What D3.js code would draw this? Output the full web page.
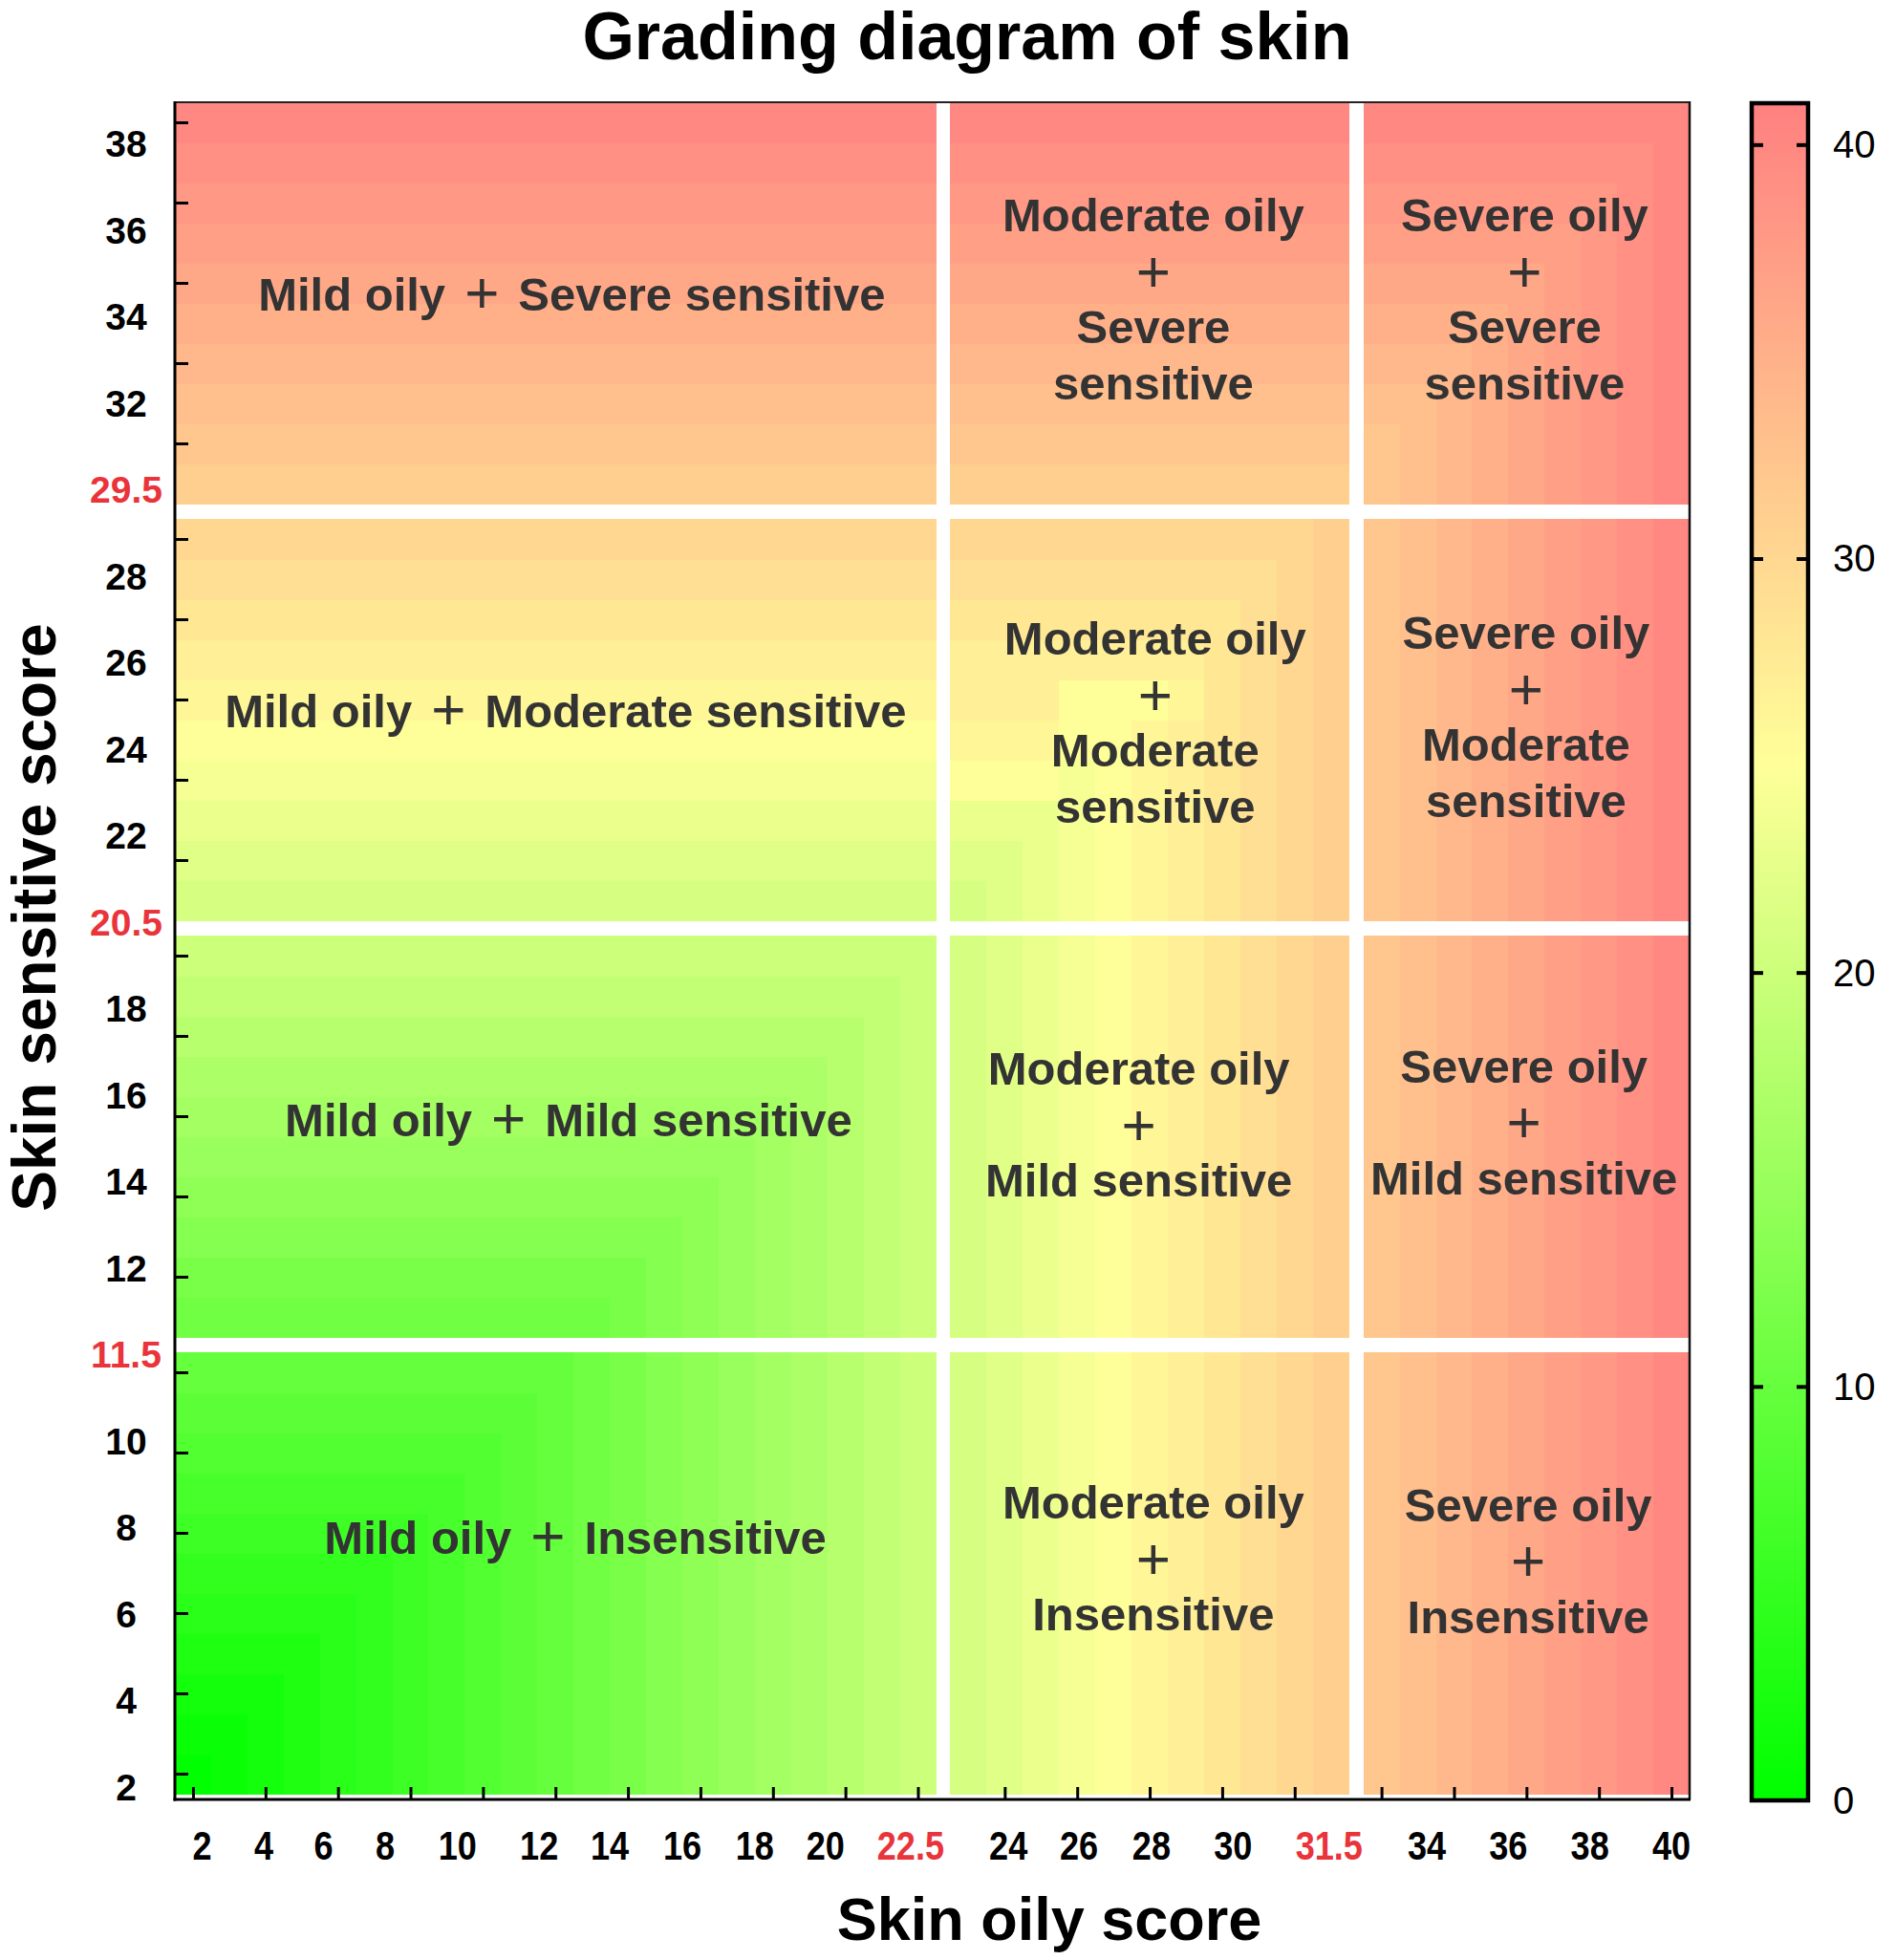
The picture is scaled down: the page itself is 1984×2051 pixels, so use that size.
<!DOCTYPE html>
<html><head><meta charset="utf-8">
<script src="https://cdn.jsdelivr.net/npm/d3@7"></script>
<style>
html,body{margin:0;padding:0;background:#fff;}
svg{display:block;}
text{font-family:"Liberation Sans", Arial, Helvetica, sans-serif;}
</style></head><body>
<svg id="chart" width="1984" height="2051"></svg>
<script>
// ---------------- DATA ----------------
const chartTitle = "Grading diagram of skin";
const xTitle = "Skin oily score";
const yTitle = "Skin sensitive score";

// grid cells: 41 oily columns (index 0..40) x 41 sensitive rows (index 0..40, bottom to top)
const columnIndex = [0,1,2,3,4,5,6,7,8,9,10,11,12,13,14,15,16,17,18,19,20,21,22,23,24,25,26,27,28,29,30,31,32,33,34,35,36,37,38,39,40];
const rowIndex    = [0,1,2,3,4,5,6,7,8,9,10,11,12,13,14,15,16,17,18,19,20,21,22,23,24,25,26,27,28,29,30,31,32,33,34,35,36,37,38,39,40];
// grade boundaries (white separators) come after these cell indices
const oilyBreaks = [20, 31];
const sensitiveBreaks = [10, 20, 30];

// heat values per row (row 0 = bottom)
const gradeRows = [
/* 0*/[0,1,2,3,4,5,6,7,8,9,10,11,12,13,14,15,16,17,18,19,20,21,22,23,24,25,26,27,28,29,30,31,32,33,34,35,36,37,38,39,40],
/* 1*/[1,1,2,3,4,5,6,7,8,9,10,11,12,13,14,15,16,17,18,19,20,21,22,23,24,25,26,27,28,29,30,31,32,33,34,35,36,37,38,39,40],
/* 2*/[2,2,2,3,4,5,6,7,8,9,10,11,12,13,14,15,16,17,18,19,20,21,22,23,24,25,26,27,28,29,30,31,32,33,34,35,36,37,38,39,40],
/* 3*/[3,3,3,3,4,5,6,7,8,9,10,11,12,13,14,15,16,17,18,19,20,21,22,23,24,25,26,27,28,29,30,31,32,33,34,35,36,37,38,39,40],
/* 4*/[4,4,4,4,4,5,6,7,8,9,10,11,12,13,14,15,16,17,18,19,20,21,22,23,24,25,26,27,28,29,30,31,32,33,34,35,36,37,38,39,40],
/* 5*/[5,5,5,5,5,5,6,7,8,9,10,11,12,13,14,15,16,17,18,19,20,21,22,23,24,25,26,27,28,29,30,31,32,33,34,35,36,37,38,39,40],
/* 6*/[6,6,6,6,6,6,6,7,8,9,10,11,12,13,14,15,16,17,18,19,20,21,22,23,24,25,26,27,28,29,30,31,32,33,34,35,36,37,38,39,40],
/* 7*/[7,7,7,7,7,7,7,7,8,9,10,11,12,13,14,15,16,17,18,19,20,21,22,23,24,25,26,27,28,29,30,31,32,33,34,35,36,37,38,39,40],
/* 8*/[8,8,8,8,8,8,8,8,8,9,10,11,12,13,14,15,16,17,18,19,20,21,22,23,24,25,26,27,28,29,30,31,32,33,34,35,36,37,38,39,40],
/* 9*/[9,9,9,9,9,9,9,9,9,9,10,11,12,13,14,15,16,17,18,19,20,21,22,23,24,25,26,27,28,29,30,31,32,33,34,35,36,37,38,39,40],
/*10*/[10,10,10,10,10, 10,10,10,10,10, 10,11,12,13,14,15,16,17,18,19,20,21,22,23,24,25,26,27,28,29,30,31,32,33,34,35,36,37,38,39,40],
/*11*/[11,11,11,11,11, 11,11,11,11,11, 11,11,12,13,14,15,16,17,18,19,20,21,22,23,24,25,26,27,28,29,30,31,32,33,34,35,36,37,38,39,40],
/*12*/[12,12,12,12,12, 12,12,12,12,12, 12,12,12,13,14,15,16,17,18,19,20,21,22,23,24,25,26,27,28,29,30,31,32,33,34,35,36,37,38,39,40],
/*13*/[13,13,13,13,13, 13,13,13,13,13, 13,13,13,13,14,15,16,17,18,19,20,21,22,23,24,25,26,27,28,29,30,31,32,33,34,35,36,37,38,39,40],
/*14*/[14,14,14,14,14, 14,14,14,14,14, 14,14,14,14,14, 15,16,17,18,19,20,21,22,23,24,25,26,27,28,29,30,31,32,33,34,35,36,37,38,39,40],
/*15*/[15,15,15,15,15, 15,15,15,15,15, 15,15,15,15,15, 15,16,17,18,19,20,21,22,23,24,25,26,27,28,29,30,31,32,33,34,35,36,37,38,39,40],
/*16*/[16,16,16,16,16, 16,16,16,16,16, 16,16,16,16,16, 16,16,17,18,19,20,21,22,23,24,25,26,27,28,29,30,31,32,33,34,35,36,37,38,39,40],
/*17*/[17,17,17,17,17, 17,17,17,17,17, 17,17,17,17,17, 17,17,17,18,19,20,21,22,23,24,25,26,27,28,29,30,31,32,33,34,35,36,37,38,39,40],
/*18*/[18,18,18,18,18, 18,18,18,18,18, 18,18,18,18,18, 18,18,18,18,19,20,21,22,23,24,25,26,27,28,29,30,31,32,33,34,35,36,37,38,39,40],
/*19*/[19,19,19,19,19, 19,19,19,19,19, 19,19,19,19,19, 19,19,19,19,19, 20,21,22,23,24,25,26,27,28,29,30,31,32,33,34,35,36,37,38,39,40],
/*20*/[20,20,20,20,20, 20,20,20,20,20, 20,20,20,20,20, 20,20,20,20,20, 20,21,22,23,24,25,26,27,28,29,30,31,32,33,34,35,36,37,38,39,40],
/*21*/[21,21,21,21,21, 21,21,21,21,21, 21,21,21,21,21, 21,21,21,21,21, 21,21,22,23,24,25,26,27,28,29,30,31,32,33,34,35,36,37,38,39,40],
/*22*/[22,22,22,22,22, 22,22,22,22,22, 22,22,22,22,22, 22,22,22,22,22, 22,22,22,23,24,25,26,27,28,29,30,31,32,33,34,35,36,37,38,39,40],
/*23*/[23,23,23,23,23, 23,23,23,23,23, 23,23,23,23,23, 23,23,23,23,23, 23,23,23,23,24,25,26,27,28,29,30,31,32,33,34,35,36,37,38,39,40],
/*24*/[24,24,24,24,24, 24,24,24,24,24, 24,24,24,24,24, 24,24,24,24,24, 24,25,25,25,24, 25,26,27,28,29,30,31,32,33,34,35,36,37,38,39,40],
/*25*/[25,25,25,25,25, 25,25,25,25,25, 25,25,25,25,25, 25,25,25,25,25, 25,26,26,26,25, 25,26,27,28,29,30,31,32,33,34,35,36,37,38,39,40],
/*26*/[26,26,26,26,26, 26,26,26,26,26, 26,26,26,26,26, 26,26,26,26,26, 26,27,27,27,25, 25,25,26,28,29,30,31,32,33,34,35,36,37,38,39,40],
/*27*/[27,27,27,27,27, 27,27,27,27,27, 27,27,27,27,27, 27,27,27,27,27, 27,27,27,27,27, 27,27,27,28,29,30,31,32,33,34,35,36,37,38,39,40],
/*28*/[28,28,28,28,28, 28,28,28,28,28, 28,28,28,28,28, 28,28,28,28,28, 28,28,28,28,28, 28,28,28,28,29,30,31,32,33,34,35,36,37,38,39,40],
/*29*/[29,29,29,29,29, 29,29,29,29,29, 29,29,29,29,29, 29,29,29,29,29, 29,29,29,29,29, 29,29,29,29,29, 30,31,32,33,34,35,36,37,38,39,40],
/*30*/[30,30,30,30,30, 30,30,30,30,30, 30,30,30,30,30, 30,30,30,30,30, 30,30,30,30,30, 30,30,30,30,30, 30,31,32,33,34,35,36,37,38,39,40],
/*31*/[31,31,31,31,31, 31,31,31,31,31, 31,31,31,31,31, 31,31,31,31,31, 31,31,31,31,31, 31,31,31,31,31, 31,31,32,33,34,35,36,37,38,39,40],
/*32*/[32,32,32,32,32, 32,32,32,32,32, 32,32,32,32,32, 32,32,32,32,32, 32,32,32,32,32, 32,32,32,32,32, 32,32,32,33,34,35,36,37,38,39,40],
/*33*/[33,33,33,33,33, 33,33,33,33,33, 33,33,33,33,33, 33,33,33,33,33, 33,33,33,33,33, 33,33,33,33,33, 33,33,33,33,34,35,36,37,38,39,40],
/*34*/[34,34,34,34,34, 34,34,34,34,34, 34,34,34,34,34, 34,34,34,34,34, 34,34,34,34,34, 34,34,34,34,34, 34,34,34,34,34, 35,36,37,38,39,40],
/*35*/[35,35,35,35,35, 35,35,35,35,35, 35,35,35,35,35, 35,35,35,35,35, 35,35,35,35,35, 35,35,35,35,35, 35,35,35,35,35, 35,36,37,38,39,40],
/*36*/[36,36,36,36,36, 36,36,36,36,36, 36,36,36,36,36, 36,36,36,36,36, 36,36,36,36,36, 36,36,36,36,36, 36,36,36,36,36, 36,36,37,38,39,40],
/*37*/[37,37,37,37,37, 37,37,37,37,37, 37,37,37,37,37, 37,37,37,37,37, 37,37,37,37,37, 37,37,37,37,37, 37,37,37,37,37, 37,37,37,38,39,40],
/*38*/[38,38,38,38,38, 38,38,38,38,38, 38,38,38,38,38, 38,38,38,38,38, 38,38,38,38,38, 38,38,38,38,38, 38,38,38,38,38, 38,38,38,38,39,40],
/*39*/[39,39,39,39,39, 39,39,39,39,39, 39,39,39,39,39, 39,39,39,39,39, 39,39,39,39,39, 39,39,39,39,39, 39,39,39,39,39, 39,39,39,39,39, 40],
/*40*/[40,40,40,40,40, 40,40,40,40,40, 40,40,40,40,40, 40,40,40,40,40, 40,40,40,40,40, 40,40,40,40,40, 40,40,40,40,40, 40,40,40,40,40, 40]
];

// axis ticks (cell indices) and tick labels
const xTickCells = [0,2,4,6,8,10,12,14,16,18,20,22,24,26,28,30,32,34,36,38,40];
const yTickCells = [0,2,4,6,8,10,12,14,16,18,20,22,24,26,28,30,32,34,36,38,40];
const xTickLabels = ["2","4","6","8","10","12","14","16","18","20","22.5","24","26","28","30","31.5","34","36","38","40"];
const xTickLabelAt = [0.25,1.95,3.6,5.3,7.3,9.55,11.5,13.5,15.5,17.45,19.8,22.1,24.05,26.05,28.3,30.95,33.25,35.5,37.75,40];
const yTickLabels = ["38","36","34","32","29.5","28","26","24","22","20.5","18","16","14","12","11.5","10","8","6","4","2"];
const cutoffLabels = ["22.5","31.5","29.5","20.5","11.5"];

// colour scale
const colorStops = [0, 25, 41];
const colorStopColors = ["#00ff00", "#ffff99", "#ff8080"];
const colorbarTicks = [10, 20, 30, 40];
const colorbarLabels = [0, 10, 20, 30, 40];

// grade annotations: [oily cell, sensitive cell] anchor
const inlineGrades = [
  {left:"Mild oily", right:"Severe sensitive",   at:[10.45, 35.69]},
  {left:"Mild oily", right:"Moderate sensitive", at:[10.28, 25.69]},
  {left:"Mild oily", right:"Mild sensitive",     at:[10.36, 15.88]},
  {left:"Mild oily", right:"Insensitive",        at:[10.55, 5.86]}
];
const stackedGrades = [
  {lines:["Moderate oily","+","Severe","sensitive"],   at:[26.1, 35.6]},
  {lines:["Moderate oily","+","Moderate","sensitive"], at:[26.15, 25.43]},
  {lines:["Moderate oily","+","Mild sensitive"],       at:[25.7, 15.79]},
  {lines:["Moderate oily","+","Insensitive"],          at:[26.1, 5.36]},
  {lines:["Severe oily","+","Severe","sensitive"],     at:[35.95, 35.6]},
  {lines:["Severe oily","+","Moderate","sensitive"],   at:[35.99, 25.57]},
  {lines:["Severe oily","+","Mild sensitive"],         at:[35.93, 15.85]},
  {lines:["Severe oily","+","Insensitive"],            at:[36.05, 5.3]}
];

// ---------------- LAYOUT ----------------
const svg = d3.select("#chart");
const plotL = 183, plotR = 1768, plotT = 107, axisY = 1883, heatB = 1877;
const colGap = 15, rowGap = 16;
const colW = (plotR - plotL - colGap * oilyBreaks.length) / columnIndex.length;
const rowH = (heatB - plotT - rowGap * sensitiveBreaks.length) / rowIndex.length;

function gapped(base, breaks, gap, sign) {
  const s = v => base(v) + sign * gap * breaks.filter(b => v > b + 0.5).length;
  s.domain = () => base.domain();
  s.range = () => base.range();
  s.copy = () => gapped(base.copy(), breaks, gap, sign);
  return s;
}
const xBase = d3.scaleLinear().domain([-0.5, columnIndex.length - 0.5]).range([plotL, plotL + colW * columnIndex.length]);
const yBase = d3.scaleLinear().domain([-0.5, rowIndex.length - 0.5]).range([heatB, heatB - rowH * rowIndex.length]);
const x = gapped(xBase, oilyBreaks, colGap, 1);
const y = gapped(yBase, sensitiveBreaks, rowGap, -1);

const color = d3.scaleLinear().domain(colorStops).range(colorStopColors);

// heatmap cells
const cells = [];
gradeRows.forEach((row, r) => row.forEach((v, c) => cells.push({c: columnIndex[c], r: rowIndex[r], v})));
svg.append("g").attr("shape-rendering", "crispEdges")
  .selectAll("rect").data(cells).join("rect")
  .attr("x", d => x(d.c) - colW / 2)
  .attr("y", d => y(d.r) - rowH / 2)
  .attr("width", colW + 0.6)
  .attr("height", rowH + 0.6)
  .attr("fill", d => color(d.v));

// frame
const frame = svg.append("g");
frame.append("line").attr("x1", plotL).attr("x2", plotR).attr("y1", plotT).attr("y2", plotT).attr("stroke", "#222").attr("stroke-width", 2);
frame.append("line").attr("x1", plotR).attr("x2", plotR).attr("y1", plotT - 1).attr("y2", axisY).attr("stroke", "#111").attr("stroke-width", 2.5);
frame.append("line").attr("x1", plotL).attr("x2", plotL).attr("y1", plotT - 1).attr("y2", axisY + 1.5).attr("stroke", "#000").attr("stroke-width", 3);
frame.append("line").attr("x1", plotL - 1.5).attr("x2", plotR + 1).attr("y1", axisY).attr("y2", axisY).attr("stroke", "#000").attr("stroke-width", 3);

// ticks via d3 axes
const xAxis = d3.axisBottom(x).tickValues(xTickCells).tickFormat("").tickSizeInner(-13).tickSizeOuter(0);
const gx = svg.append("g").attr("transform", `translate(0,${axisY})`).call(xAxis);
gx.select(".domain").remove();
gx.selectAll(".tick line").attr("stroke", "#000").attr("stroke-width", 3);

const yAxis = d3.axisLeft(y).tickValues(yTickCells).tickFormat("").tickSizeInner(-14).tickSizeOuter(0);
const gy = svg.append("g").attr("transform", `translate(${plotL},0)`).call(yAxis);
gy.select(".domain").remove();
gy.selectAll(".tick line").attr("stroke", "#000").attr("stroke-width", 3);

const red = "#e8343a";
// x tick labels (condensed bold)
svg.append("g").selectAll("text").data(xTickLabels).join("text")
  .attr("transform", (d, i) => `translate(${x(xTickLabelAt[i])},1946) scale(0.86,1)`)
  .attr("text-anchor", "middle")
  .attr("font-size", 42).attr("font-weight", "bold")
  .attr("fill", d => cutoffLabels.includes(d) ? red : "#000")
  .text(d => d);

// y tick labels
const yLab = d3.scalePoint().domain(yTickLabels).range([150, 1870]);
svg.append("g").selectAll("text").data(yTickLabels).join("text")
  .attr("x", 132).attr("y", d => yLab(d) + 14)
  .attr("text-anchor", "middle")
  .attr("font-size", 39).attr("font-weight", "bold")
  .attr("fill", d => cutoffLabels.includes(d) ? red : "#000")
  .text(d => d);

// titles
svg.append("text").attr("x", 1012).attr("y", 62).attr("text-anchor", "middle")
  .attr("font-size", 70).attr("font-weight", "bold").attr("fill", "#000").text(chartTitle);
svg.append("text").attr("x", 1098).attr("y", 2030).attr("text-anchor", "middle")
  .attr("font-size", 63).attr("font-weight", "bold").attr("fill", "#000").text(xTitle);
svg.append("text").attr("transform", "translate(58,960) rotate(-90)").attr("text-anchor", "middle")
  .attr("font-size", 64).attr("font-weight", "bold").attr("fill", "#000").text(yTitle);

// grade annotations
const textCol = "#333";
const annG = svg.append("g").attr("fill", textCol);
inlineGrades.forEach(g => {
  const t = annG.append("text").attr("x", x(g.at[0])).attr("y", y(g.at[1]) + 16).attr("text-anchor", "middle");
  t.append("tspan").attr("font-size", 49).attr("font-weight", "bold").text(g.left);
  t.append("tspan").attr("dx", 20).attr("dy", 2).attr("font-size", 62).attr("font-weight", "normal").text("+");
  t.append("tspan").attr("dx", 20).attr("dy", -2).attr("font-size", 49).attr("font-weight", "bold").text(g.right);
});
const lineStep = 58.5;
stackedGrades.forEach(g => {
  const n = g.lines.length;
  g.lines.forEach((line, i) => {
    const cy = y(g.at[1]) + (i - (n - 1) / 2) * lineStep;
    const isPlus = line === "+";
    annG.append("text").attr("x", x(g.at[0])).attr("y", cy + (isPlus ? 21 : 17))
      .attr("text-anchor", "middle")
      .attr("font-size", isPlus ? 62 : 49)
      .attr("font-weight", isPlus ? "normal" : "bold")
      .text(line);
  });
});

// colour bar
const cbL = 1833, cbW = 59, cbT = 108, cbB = 1884;
const cbY = d3.scaleLinear().domain([0, 41]).range([cbB, cbT]);
const defs = svg.append("defs");
const grad = defs.append("linearGradient").attr("id", "cbgrad").attr("x1", 0).attr("y1", 1).attr("x2", 0).attr("y2", 0);
grad.selectAll("stop").data(colorStops).join("stop")
  .attr("offset", d => d / 41).attr("stop-color", d => color(d));
svg.append("rect").attr("x", cbL).attr("y", cbT).attr("width", cbW).attr("height", cbB - cbT)
  .attr("fill", "url(#cbgrad)").attr("stroke", "#000").attr("stroke-width", 4.5);
const cbLeft = svg.append("g").attr("transform", `translate(${cbL},0)`)
  .call(d3.axisLeft(cbY).tickValues(colorbarTicks).tickFormat("").tickSizeInner(-12).tickSizeOuter(0));
cbLeft.select(".domain").remove();
cbLeft.selectAll(".tick line").attr("stroke", "#000").attr("stroke-width", 4);
const cbRight = svg.append("g").attr("transform", `translate(${cbL + cbW},0)`)
  .call(d3.axisRight(cbY).tickValues(colorbarTicks).tickFormat("").tickSizeInner(-12).tickSizeOuter(0));
cbRight.select(".domain").remove();
cbRight.selectAll(".tick line").attr("stroke", "#000").attr("stroke-width", 4);
svg.append("g").selectAll("text").data(colorbarLabels).join("text")
  .attr("x", 1918).attr("y", d => cbY(d) + 14)
  .attr("font-size", 40).attr("fill", "#000")
  .text(d => d);
</script>
</body></html>
